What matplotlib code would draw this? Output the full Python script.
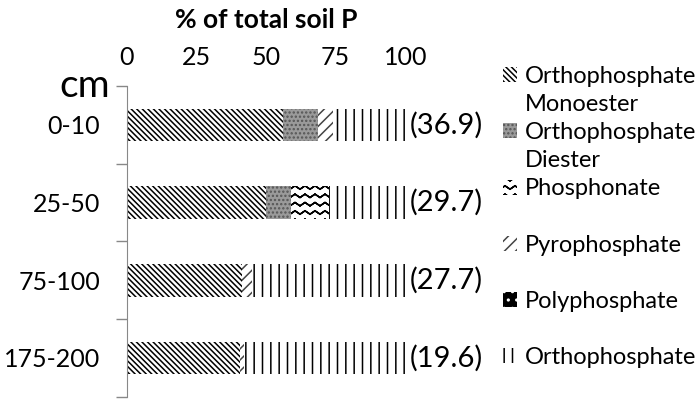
import numpy as np
import matplotlib
matplotlib.use('Agg')
import matplotlib.pyplot as plt
import matplotlib.hatch as mhatch
import matplotlib.transforms as mtransforms
from matplotlib.patches import Patch
from matplotlib.path import Path

depths = ['0-10', '25-50', '75-100', '175-200']
mono = [56.0, 50.0, 41.5, 40.5]
diester = [12.7, 9.0, 0.0, 0.0]
phosphonate = [0.0, 13.7, 0.0, 0.0]
pyro = [5.4, 0.0, 3.5, 1.5]
poly = [0.0, 0.0, 0.0, 0.0]
ortho = [25.9, 27.3, 55.0, 58.0]
total_p = [36.9, 29.7, 27.7, 19.6]


# wavy hatch for the phosphonate bars, hooked on the '-' hatch character
# each wave goes out and back again so agg's hatch fill has no area
class ZigZagHatch(mhatch.HatchPatternBase):
    def __init__(self, hatch, density):
        self.num_lines = int(hatch.count('-') * density * 2)
        self.n_zig = 10
        self.npts = 2 * self.n_zig + 1
        self.num_vertices = self.num_lines * (2 * self.npts - 1)

    def set_vertices_and_codes(self, vertices, codes):
        npts = self.npts
        xs = np.linspace(0.0, 1.0, npts)
        amp = 0.017
        off = np.where(np.arange(npts) % 2 == 0, -amp, amp)
        xs = np.concatenate([xs, xs[-2::-1]])
        off = np.concatenate([off, off[-2::-1]])
        n = len(xs)
        for i in range(self.num_lines):
            y = (i + 0.5) / self.num_lines
            sl = slice(i * n, (i + 1) * n)
            vertices[sl, 0] = xs
            vertices[sl, 1] = y + off
            codes[sl] = Path.LINETO
            codes[i * n] = Path.MOVETO


mhatch._hatch_types[0] = ZigZagHatch

plt.rcParams['font.family'] = ['Lato', 'DejaVu Sans']
plt.rcParams['hatch.linewidth'] = 1.1

series = [
    ('Orthophosphate', mono, 'white', 'black', '\\\\\\\\\\\\'),
    ('Orthophosphate', diester, '#9a9a9a', '#555555', '....'),
    ('Phosphonate', phosphonate, 'white', 'black', '-'),
    ('Pyrophosphate', pyro, 'white', '#444444', '///'),
    ('Polyphosphate', poly, 'black', 'white', '..'),
    ('Orthophosphate', ortho, 'white', 'black', '||'),
]
extra = ['Monoester', 'Diester', '', '', '']

fig = plt.figure(figsize=(7, 4), dpi=100)
ax = fig.add_axes([0.181, 0.008, 0.398, 0.777])

y = np.arange(len(depths))
left = np.zeros(len(depths))
handles = []
labels = []
for i, (name, vals, fc, ec, hatch) in enumerate(series):
    ax.barh(y, vals, left=left, height=0.42, color=fc, edgecolor=ec,
            hatch=hatch, linewidth=0)
    left += np.array(vals)
    handles.append(Patch(facecolor=fc, edgecolor=ec, hatch=hatch, linewidth=0))
    labels.append(name)
    if i < len(extra):
        handles.append(Patch(facecolor='none', edgecolor='none', linewidth=0))
        labels.append(extra[i])

for yi, t in zip(y, total_p):
    ax.text(101.5, yi, '(%.1f)' % t, va='center', ha='left', fontsize=21)

ax.set_xlim(0, 100)
ax.set_ylim(3.5, -0.5)
ax.xaxis.tick_top()
ax.xaxis.set_label_position('top')
ax.set_xticks([0, 25, 50, 75, 100])
ax.tick_params(axis='x', length=0, labelsize=18, pad=12)
ax.set_xlabel('% of total soil P', fontsize=19, fontweight='bold', labelpad=13)

ax.set_yticks(y)
ax.set_yticklabels(depths)
ax.set_yticks(np.arange(-0.5, 4.0, 1.0), minor=True)
ax.tick_params(axis='y', which='major', length=0, labelsize=18, pad=19)
ax.tick_params(axis='y', which='minor', length=8, color='#888888', width=1)

for s in ['top', 'right', 'bottom']:
    ax.spines[s].set_visible(False)
ax.spines['left'].set_color('#888888')

trans = mtransforms.blended_transform_factory(ax.transAxes, ax.transData)
ax.text(-0.06, -0.5, 'cm', transform=trans, ha='right', va='center', fontsize=28)

fig.legend(handles, labels, loc='upper left', bbox_to_anchor=(0.719, 0.835),
           frameon=False, fontsize=17, handlelength=0.6, handleheight=0.6,
           handletextpad=0.3, labelspacing=0.3, borderpad=0, borderaxespad=0)

fig.savefig('out.png', dpi=100)
